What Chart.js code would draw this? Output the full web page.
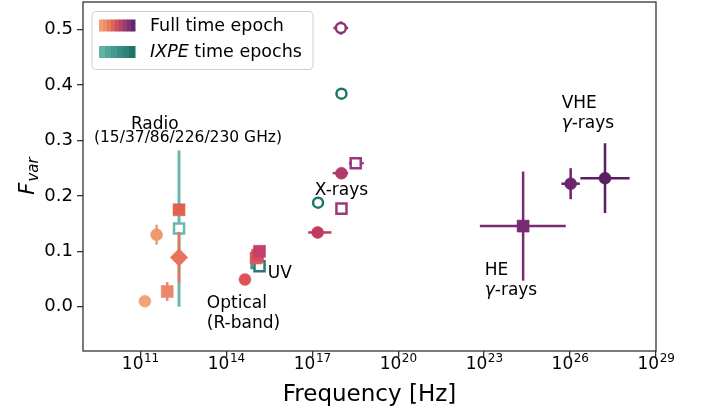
<!DOCTYPE html>
<html>
<head>
<meta charset="utf-8">
<script src="https://cdn.jsdelivr.net/npm/chart.js@4.4.1/dist/chart.umd.min.js"></script>
<style>
  html, body { margin: 0; padding: 0; background: #fff; }
  canvas { display: block; }
</style>
</head>
<body>
<canvas id="fvarChart" width="703" height="412"></canvas>
<script>
// Fractional variability per band, full time epoch
var fullFreq   = [1.45e11, 3.7e11, 8.7e11, 2.25e12, 2.25e12, 4.5e14, 1.1e15, 1.25e15, 1.45e15, 1.55e17, 1.05e18, 1.05e18, 3.3e18, 1.0e18, 2.3e24, 1.05e26, 1.66e27];
var fullFvar   = [0.010, 0.130, 0.0275, 0.089, 0.175, 0.049, 0.088, 0.093, 0.100, 0.134, 0.177, 0.241, 0.259, 0.503, 0.1455, 0.222, 0.232];
var fullErr    = [0, 0.018, 0.017, 0.046, 0, 0, 0, 0, 0, 0, 0, 0, 0, 0.012, 0.0985, 0.028, 0.063];
var fullFreqLo = [0, 0, 0, 0, 0, 0, 0, 0, 0, 7.2e16, 0, 5.2e17, 1.9e18, 5.5e17, 7.1e22, 5.0e25, 2.3e26];
var fullFreqHi = [0, 0, 0, 0, 0, 0, 0, 0, 0, 4.7e17, 0, 1.8e18, 6.3e18, 1.8e18, 7.1e25, 2.2e26, 1.2e28];

// Fractional variability during the IXPE time epochs
var ixpeFreq   = [2.25e12, 1.15e15, 1.45e15, 1.6e17, 1.05e18];
var ixpeFvar   = [0.141, 0.079, 0.073, 0.1877, 0.3845];
var ixpeErr    = [0.141, 0, 0, 0, 0];

var yTicks = [0, 0.1, 0.2, 0.3, 0.4, 0.5];
var xTickExp = [11, 14, 17, 20, 23, 26, 29];

// marker styling
var fullColors = ['#f0a475', '#ec9a6c', '#e9876a', '#e6735a', '#e2624f', '#df525a', '#e05a58', '#d44c60', '#c2406a',
                  '#c13b5e', '#9a3a7c', '#b03a6a', '#9a3a7c', '#8a3478', '#7a2a75', '#6c2470', '#5a1f5f'];
var fullShapes = ['circle', 'circle', 'rect', 'rectRot', 'rect', 'circle', 'rect', 'rect', 'rect',
                  'circle', 'rect', 'circle', 'rect', 'circle', 'rect', 'circle', 'circle'];
var fullOpen   = [0, 0, 0, 0, 0, 0, 0, 0, 0, 0, 1, 0, 1, 1, 0, 0, 0];
var ixpeColors = ['#6ab8ac', '#3f948a', '#2a7a70', '#1f7468', '#1f7468'];
var ixpeShapes = ['rect', 'rect', 'rect', 'circle', 'circle'];

var fullSwatch = ['#f0a070', '#eb9068', '#e57a5e', '#dc6458', '#c94f60', '#b4436a', '#9a3a70', '#7f3072', '#642870'];
var ixpeSwatch = ['#5fb4a6', '#52a698', '#46998e', '#3a8c82', '#2e8278', '#1e766a'];

var FONT = '"DejaVu Sans", Verdana, sans-serif';

function radiusFor(shape, open) {
  if (shape === 'rect') return open ? 7.1 : 8.5;
  if (shape === 'rectRot') return 8.8;
  return open ? 5 : 6;
}

function buildPoints(freq, fvar, err, lo, hi) {
  return freq.map(function (f, i) {
    return { x: f, y: fvar[i], yerr: err[i], xlo: lo ? lo[i] : 0, xhi: hi ? hi[i] : 0 };
  });
}

// draws the error bars of a dataset right under its markers
var errorBars = {
  id: 'errorBars',
  beforeDatasetDraw: function (chart, args) {
    var ds = chart.data.datasets[args.index];
    var xs = chart.scales.x, ys = chart.scales.y;
    var ctx = chart.ctx, area = chart.chartArea;
    ctx.save();
    ctx.beginPath();
    ctx.rect(area.left, area.top, area.right - area.left, area.bottom - area.top);
    ctx.clip();
    ctx.lineWidth = ds.errWidth;
    ctx.lineCap = 'butt';
    ds.data.forEach(function (p, i) {
      ctx.strokeStyle = ds.pointBorderColor[i];
      var px = xs.getPixelForValue(p.x), py = ys.getPixelForValue(p.y);
      if (p.yerr) {
        ctx.beginPath();
        ctx.moveTo(px, ys.getPixelForValue(p.y - p.yerr));
        ctx.lineTo(px, ys.getPixelForValue(p.y + p.yerr));
        ctx.stroke();
      }
      if (p.xlo && p.xhi) {
        ctx.beginPath();
        ctx.moveTo(xs.getPixelForValue(p.xlo), py);
        ctx.lineTo(xs.getPixelForValue(p.xhi), py);
        ctx.stroke();
      }
    });
    ctx.restore();
  }
};

// band labels, in data coordinates
var bandLabels = [
  { text: 'Radio', x: 3.2e11, y: 0.329, align: 'center', size: 17 },
  { text: '(15/37/86/226/230 GHz)', x: 4.6e12, y: 0.304, align: 'center', size: 15.5 },
  { text: 'X-rays', x: 1.05e18, y: 0.210, align: 'center', size: 17 },
  { text: 'UV', x: 2.8e15, y: 0.060, align: 'left', size: 17 },
  { text: 'Optical', x: 2.1e13, y: 0.006, align: 'left', size: 17 },
  { text: '(R-band)', x: 2.1e13, y: -0.031, align: 'left', size: 17 },
  { text: 'HE', x: 1.05e23, y: 0.066, align: 'left', size: 17 },
  { text: '\u03b3|-rays', x: 1.05e23, y: 0.029, align: 'left', size: 17 },
  { text: 'VHE', x: 5.1e25, y: 0.366, align: 'left', size: 17 },
  { text: '\u03b3|-rays', x: 5.1e25, y: 0.330, align: 'left', size: 17 }
];

var decorations = {
  id: 'decorations',
  afterDraw: function (chart) {
    var ctx = chart.ctx, area = chart.chartArea;
    var xs = chart.scales.x, ys = chart.scales.y;
    ctx.save();

    // frame
    ctx.strokeStyle = '#333';
    ctx.lineWidth = 1.3;
    ctx.strokeRect(area.left, area.top, area.right - area.left, area.bottom - area.top);

    // x tick labels 10^n
    ctx.fillStyle = '#000';
    ctx.textBaseline = 'alphabetic';
    xTickExp.forEach(function (e) {
      var px = xs.getPixelForValue(Math.pow(10, e));
      ctx.font = '17px ' + FONT;
      var wb = ctx.measureText('10').width;
      ctx.font = '12px ' + FONT;
      var we = ctx.measureText(String(e)).width;
      var left = px - (wb + we) / 2;
      ctx.font = '17px ' + FONT;
      ctx.textAlign = 'left';
      ctx.fillText('10', left, 369);
      ctx.font = '12px ' + FONT;
      ctx.fillText(String(e), left + wb + 0.5, 362);
    });

    // axis titles
    ctx.font = '23px ' + FONT;
    ctx.textAlign = 'center';
    ctx.fillText('Frequency [Hz]', (area.left + area.right) / 2, 401);

    ctx.save();
    ctx.translate(34, (area.top + area.bottom) / 2);
    ctx.rotate(-Math.PI / 2);
    ctx.font = 'italic 21px ' + FONT;
    var wF = ctx.measureText('F').width;
    ctx.font = 'italic 15px ' + FONT;
    var wV = ctx.measureText('var').width;
    var start = -(wF + wV) / 2;
    ctx.textAlign = 'left';
    ctx.font = 'italic 21px ' + FONT;
    ctx.fillText('F', start, 0);
    ctx.font = 'italic 15px ' + FONT;
    ctx.fillText('var', start + wF + 1, 4);
    ctx.restore();

    // band labels
    ctx.textBaseline = 'middle';
    bandLabels.forEach(function (l) {
      var px = xs.getPixelForValue(l.x), py = ys.getPixelForValue(l.y);
      var parts = l.text.split('|');
      ctx.font = l.size + 'px ' + FONT;
      if (parts.length === 1) {
        ctx.textAlign = l.align;
        ctx.fillText(l.text, px, py);
      } else {
        ctx.textAlign = 'left';
        ctx.font = 'italic ' + l.size + 'px ' + FONT;
        ctx.fillText(parts[0], px, py);
        var w = ctx.measureText(parts[0]).width;
        ctx.font = l.size + 'px ' + FONT;
        ctx.fillText(parts[1], px + w, py);
      }
    });

    // legend
    var lx = 92, ly = 11.5, lw = 221, lh = 58;
    ctx.beginPath();
    ctx.roundRect(lx, ly, lw, lh, 4);
    ctx.fillStyle = 'rgba(255,255,255,0.85)';
    ctx.fill();
    ctx.strokeStyle = '#d0d0d0';
    ctx.lineWidth = 1;
    ctx.stroke();

    function swatch(colors, x, y, w, h) {
      var sw = w / colors.length;
      colors.forEach(function (c, i) {
        ctx.fillStyle = c;
        ctx.fillRect(x + i * sw, y, sw + 0.5, h);
      });
    }
    swatch(fullSwatch, 99, 19.5, 36, 12);
    swatch(ixpeSwatch, 99, 46, 36, 12);

    ctx.fillStyle = '#000';
    ctx.textAlign = 'left';
    ctx.textBaseline = 'middle';
    ctx.font = '17.5px ' + FONT;
    ctx.fillText('Full time epoch', 150, 26);
    ctx.font = 'italic 17.5px ' + FONT;
    ctx.fillText('IXPE', 150, 52.5);
    var wi = ctx.measureText('IXPE').width;
    ctx.font = '17.5px ' + FONT;
    ctx.fillText(' time epochs', 150 + wi, 52.5);

    ctx.restore();
  }
};

var fullPoints = buildPoints(fullFreq, fullFvar, fullErr, fullFreqLo, fullFreqHi);
var ixpePoints = buildPoints(ixpeFreq, ixpeFvar, ixpeErr);

var ctx = document.getElementById('fvarChart');
var fvarChart = new Chart(ctx, {
  type: 'scatter',
  data: {
    datasets: [{
      label: 'Full time epoch',
      data: fullPoints,
      pointStyle: fullShapes,
      pointRadius: fullShapes.map(function (s, i) { return radiusFor(s, fullOpen[i]); }),
      pointBackgroundColor: fullColors.map(function (c, i) { return fullOpen[i] ? '#ffffff' : c; }),
      pointBorderColor: fullColors,
      pointBorderWidth: fullOpen.map(function (o) { return o ? 2.5 : 0.5; }),
      errWidth: 2.5
    }, {
      label: 'IXPE time epochs',
      data: ixpePoints,
      pointStyle: ixpeShapes,
      pointRadius: ixpeShapes.map(function (s) { return radiusFor(s, 1); }),
      pointBackgroundColor: '#ffffff',
      pointBorderColor: ixpeColors,
      pointBorderWidth: 2.5,
      errWidth: 3
    }]
  },
  options: {
    responsive: false,
    animation: false,
    devicePixelRatio: 1,
    layout: { autoPadding: false, padding: { top: 2, right: 47, left: 0, bottom: 0 } },
    plugins: {
      legend: { display: false },
      tooltip: { enabled: false }
    },
    scales: {
      x: {
        type: 'logarithmic',
        min: 1e9,
        max: 1e29,
        afterBuildTicks: function (scale) {
          scale.ticks = xTickExp.map(function (e) { return { value: Math.pow(10, e) }; });
        },
        afterFit: function (scale) {
          scale.height = 61;
          scale.paddingLeft = 0;
          scale.paddingRight = 0;
        },
        ticks: { autoSkip: false, maxRotation: 0, callback: function () { return ''; } },
        grid: { drawOnChartArea: false, drawTicks: true, tickLength: 6, color: '#333', lineWidth: 1.3 },
        border: { display: false }
      },
      y: {
        min: -0.08,
        max: 0.55,
        afterBuildTicks: function (scale) {
          scale.ticks = yTicks.map(function (v) { return { value: v }; });
        },
        afterFit: function (scale) {
          scale.width = 83;
          scale.paddingTop = 0;
          scale.paddingBottom = 0;
        },
        ticks: {
          color: '#000',
          padding: 4,
          font: { family: FONT, size: 18 },
          callback: function (v) { return Number(v).toFixed(1); }
        },
        grid: { drawOnChartArea: false, drawTicks: true, tickLength: 6, color: '#333', lineWidth: 1.3 },
        border: { display: false }
      }
    }
  },
  plugins: [errorBars, decorations]
});
</script>
</body>
</html>
